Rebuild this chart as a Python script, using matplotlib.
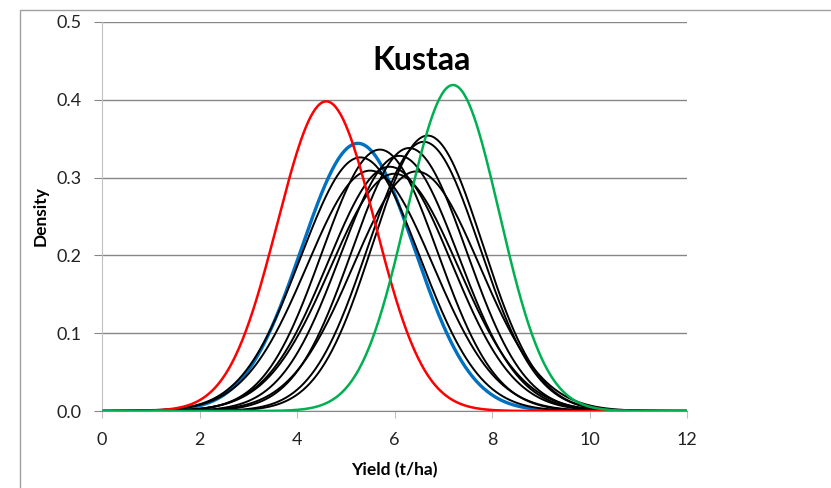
import numpy as np
import matplotlib
matplotlib.use('Agg')
import matplotlib.pyplot as plt
from matplotlib.patches import Rectangle

plt.rcParams['font.family'] = ['Lato', 'DejaVu Sans']

# mean yield (t/ha) and peak density
red_mean, red_peak = 4.6, 0.398
blue_mean, blue_peak = 5.25, 0.344
green_mean, green_peak = 7.2, 0.419
black_means = [5.3, 5.5, 5.7, 5.9, 6.1, 6.3, 6.45, 6.6, 6.68, 6.0]
black_peaks = [0.326, 0.309, 0.336, 0.314, 0.328, 0.338, 0.308, 0.346, 0.354, 0.305]

x_ticks = [0, 2, 4, 6, 8, 10, 12]
y_ticks = [0.0, 0.1, 0.2, 0.3, 0.4, 0.5]

x = np.linspace(0, 12, 481)


def density(mean, peak):
    sd = 1 / (np.sqrt(2 * np.pi) * peak)
    return np.exp(-0.5 * ((x - mean) / sd) ** 2) / (sd * np.sqrt(2 * np.pi))


fig = plt.figure(figsize=(8.31, 4.88), dpi=100)
ax = fig.add_axes([102 / 831, 1 - 411 / 488, 585 / 831, 389 / 488])

# chart border
fig.patches.append(Rectangle((20 / 831, -0.1), 1.1, 1 - 9.5 / 488 + 0.1,
                             transform=fig.transFigure, fill=False,
                             edgecolor='#a0a0a0', linewidth=1.0))

for m, p in zip(black_means, black_peaks):
    ax.plot(x, density(m, p), color='black', lw=1.4, zorder=3)
ax.plot(x, density(blue_mean, blue_peak), color='#0070C0', lw=2.4, zorder=2.5)
ax.plot(x, density(red_mean, red_peak), color='#FF0000', lw=1.8, zorder=4)
ax.plot(x, density(green_mean, green_peak), color='#00B050', lw=1.8, zorder=4)

ax.set_xlim(0, 12)
ax.set_ylim(0, 0.5)
ax.set_xticks(x_ticks)
ax.set_yticks(y_ticks)
ax.set_yticklabels([f'{v:.1f}' for v in y_ticks])
ax.grid(axis='y', color='#868686', lw=1.0)
ax.set_axisbelow(True)

for s in ['top', 'right']:
    ax.spines[s].set_visible(False)
ax.spines['left'].set_color('#c0c0c0')
ax.spines['bottom'].set_color('#868686')
ax.tick_params(axis='y', length=6, color='#868686', labelsize=13, pad=9, labelcolor='#222222')
ax.tick_params(axis='x', length=5, color='#c0c0c0', labelsize=13, pad=10, labelcolor='#222222')

ax.set_xlabel('Yield (t/ha)', fontsize=12.5, fontweight='bold', labelpad=10)
ax.set_ylabel('Density', fontsize=12.5, fontweight='bold', labelpad=5)

fig.text(422 / 831, 1 - 60 / 488, 'Kustaa', fontsize=23, fontweight='bold',
         ha='center', va='center')

fig.savefig('out.png', dpi=100)
